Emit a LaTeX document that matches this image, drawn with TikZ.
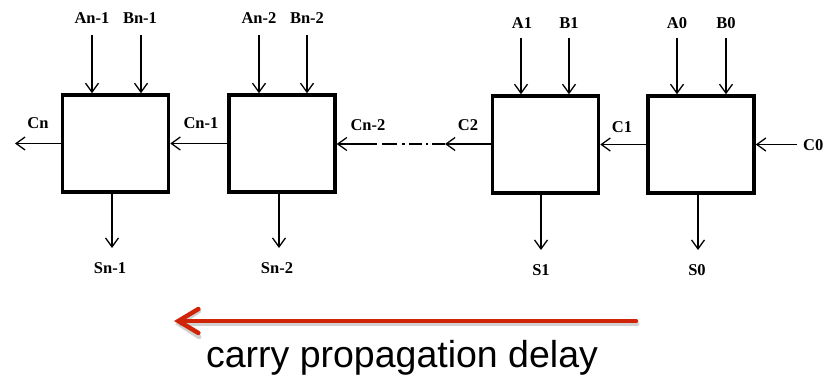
\documentclass[tikz,border=0pt]{standalone}
\usepackage{fontspec}
\setmainfont{Liberation Serif}
\newfontfamily\capfont{Liberation Sans}
\usetikzlibrary{arrows.meta}
\definecolor{redarrow}{RGB}{208,36,8}
\begin{document}
\begin{tikzpicture}[x=1pt,y=-1pt,
  fa/.style={draw,line width=3.5pt,minimum width=106pt,minimum height=97pt,inner sep=0pt},
  arr/.style={line width=1.3pt,-{Straight Barb[length=9pt,width=13pt]}},
  lab/.style={font=\fontsize{16.5}{18}\selectfont\bfseries,inner sep=1pt},
  dashdot/.style={dash pattern=on 13pt off 4pt on 2pt off 4pt on 13pt off 4pt on 3pt off 5pt on 15pt off 5pt on 100pt off 0pt}]
\useasboundingbox (0,0) rectangle (828,377);
% boxes
\node[fa] (b1) at (115.5,143.5) {};
\node[fa] (b2) at (282,143.5) {};
\node[fa] (b3) at (545.5,144.5) {};
\node[fa] (b4) at (701,144.5) {};
% input labels
\node[lab] (an1) at (92,18) {An-1};
\node[lab] (bn1) at (140,18) {Bn-1};
\node[lab] (an2) at (259,18) {An-2};
\node[lab] (bn2) at (307,18) {Bn-2};
\node[lab] (a1) at (522,23) {A1};
\node[lab] (bb1) at (569,23) {B1};
\node[lab] (a0) at (677,23) {A0};
\node[lab] (bb0) at (726,23) {B0};
% input arrow starts
\coordinate (ian1) at (92,35);
\coordinate (ibn1) at (141,35);
\coordinate (ian2) at (259,35);
\coordinate (ibn2) at (307,35);
\coordinate (ia1) at (521,38);
\coordinate (ib1) at (569,38);
\coordinate (ia0) at (677,38);
\coordinate (ib0) at (726,38);
\draw[arr] (ian1) -- (ian1 |- b1.north);
\draw[arr] (ibn1) -- (ibn1 |- b1.north);
\draw[arr] (ian2) -- (ian2 |- b2.north);
\draw[arr] (ibn2) -- (ibn2 |- b2.north);
\draw[arr] (ia1) -- (ia1 |- b3.north);
\draw[arr] (ib1) -- (ib1 |- b3.north);
\draw[arr] (ia0) -- (ia0 |- b4.north);
\draw[arr] (ib0) -- (ib0 |- b4.north);
% outputs
\coordinate (osn1) at (112,248);
\coordinate (osn2) at (279,248);
\coordinate (os1) at (541,250);
\coordinate (os0) at (698,250);
\draw[arr] (osn1 |- b1.south) -- (osn1);
\draw[arr] (osn2 |- b2.south) -- (osn2);
\draw[arr] (os1 |- b3.south) -- (os1);
\draw[arr] (os0 |- b4.south) -- (os0);
\node[lab] (sn1) at (110,268) {Sn-1};
\node[lab] (sn2) at (277,268) {Sn-2};
\node[lab] (s1) at (541,270) {S1};
\node[lab] (s0) at (697,270) {S0};
% carries
\coordinate (cnend) at (15,143.5);
\coordinate (c0start) at (797,144.5);
\coordinate (c2tip) at (445,144);
\draw[arr] (b1.west) -- (cnend);
\draw[arr] (b2.west) -- (b1.east);
\draw[arr] (b3.west |- c2tip) -- (c2tip);
\draw[arr,dashdot] (c2tip) -- (b2.east |- c2tip);
\draw[arr] (b4.west) -- (b3.east);
\draw[arr] (c0start) -- (b4.east);
\node[lab] (cn) at (38,123) {Cn};
\node[lab] (cn1) at (201,123) {Cn-1};
\node[lab] (cn2) at (368,125) {Cn-2};
\node[lab] (c2) at (468,125) {C2};
\node[lab] (c1) at (622,127) {C1};
\node[lab,anchor=west] (c0) at (802,145) {C0};
% propagation arrow
\coordinate (pstart) at (636,321);
\coordinate (pend) at (174,321);
\draw[line width=4.5pt,black,opacity=0.18,line cap=round,-{Straight Barb[length=20pt,width=26pt,line cap=round]}] ([shift={(1,3)}]pstart) -- ([shift={(1,3)}]pend);
\draw[line width=4.5pt,redarrow,line cap=round,-{Straight Barb[length=20pt,width=24pt,line cap=round]}] (pstart) -- (pend);
\node[font=\capfont\fontsize{37.5}{40}\selectfont,anchor=base,inner sep=0pt] (cap) at (402,367) {carry propagation delay};
\end{tikzpicture}
\end{document}
